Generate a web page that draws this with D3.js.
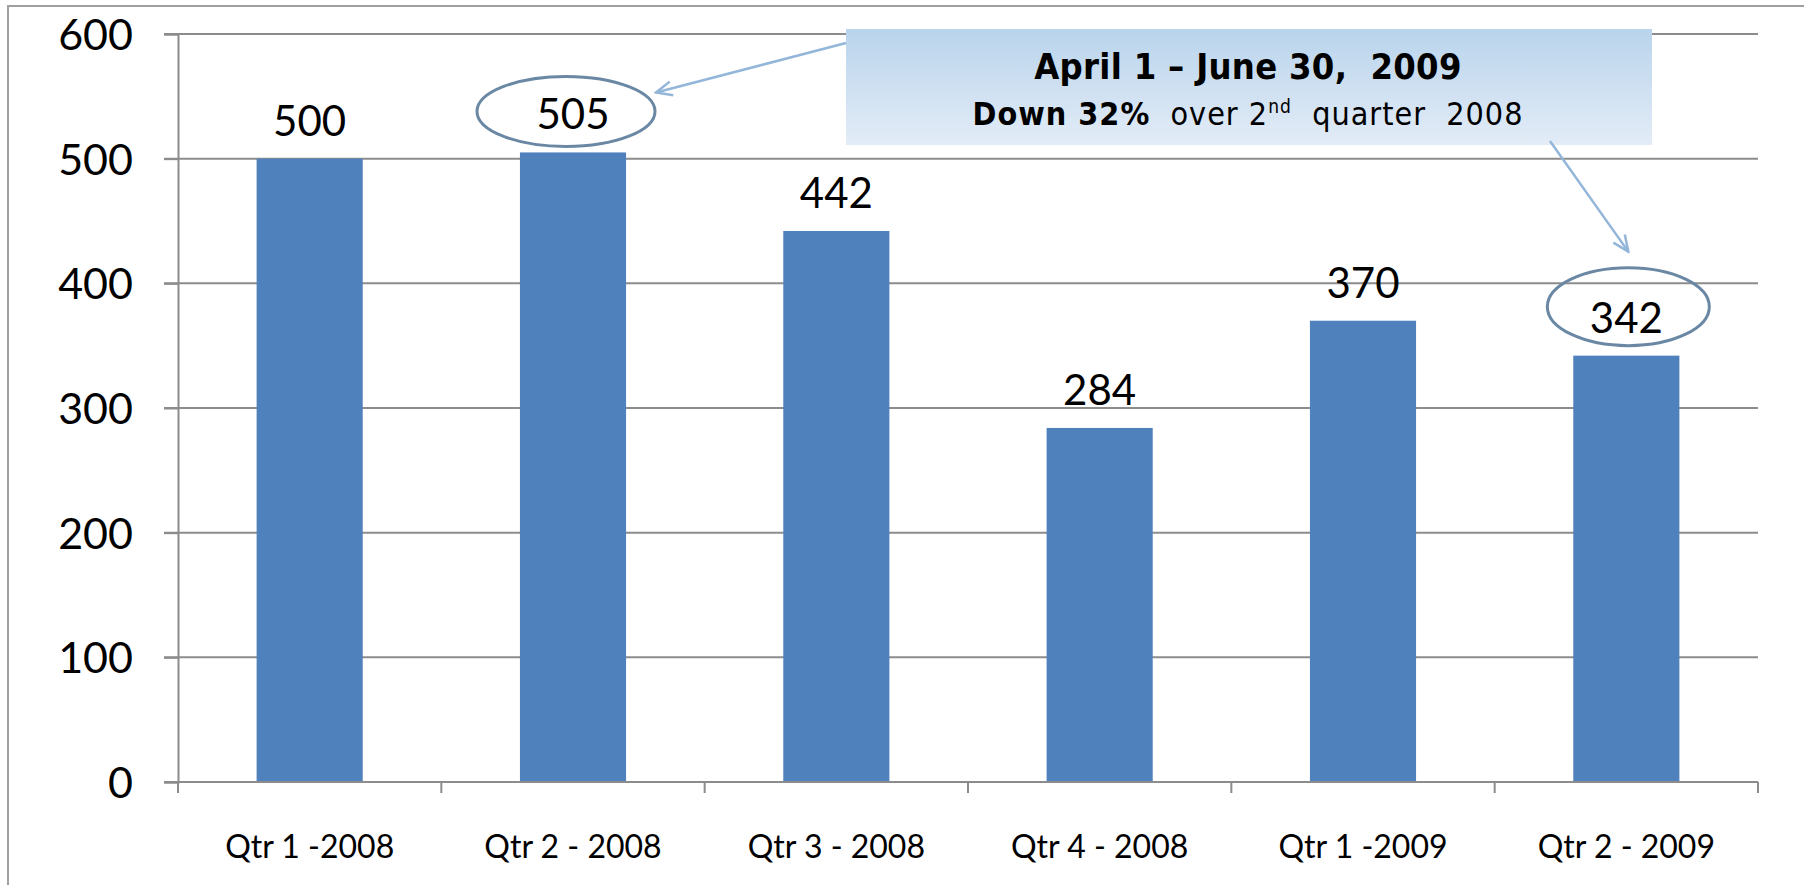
<!DOCTYPE html>
<html>
<head>
<meta charset="utf-8">
<script src="https://cdn.jsdelivr.net/npm/d3@7"></script>
<style>
  html, body { margin: 0; padding: 0; background: #fff; }
  svg { display: block; }
  text { font-family: Lato, "Open Sans", sans-serif; fill: #000; }
  .note text { font-family: "Liberation Sans Narrow", "DejaVu Sans Condensed", sans-serif; white-space: pre; }
</style>
</head>
<body>
<div id="chart"></div>
<script>
// Data
const quarters = ['Qtr 1 -2008', 'Qtr 2 - 2008', 'Qtr 3 - 2008', 'Qtr 4 - 2008', 'Qtr 1 -2009', 'Qtr 2 - 2009'];
const values = [500, 505, 442, 284, 370, 342];
const yTicks = [0, 100, 200, 300, 400, 500, 600];
const circled = ['Qtr 2 - 2008', 'Qtr 2 - 2009'];

const W = 1804, H = 885;
const svg = d3.select('#chart').append('svg')
    .attr('width', W)
    .attr('height', H);

// outer frame (right and bottom edges fall outside the picture)
svg.append('rect')
    .attr('x', 8).attr('y', 6)
    .attr('width', 1900).attr('height', 1000)
    .attr('fill', 'none')
    .attr('stroke', '#a0a0a0')
    .attr('stroke-width', 2);

const plotLeft = 178, plotRight = 1758, plotTop = 34, plotBottom = 782;

const x = d3.scaleBand()
    .domain(quarters)
    .range([plotLeft, plotRight])
    .paddingInner(0.597)
    .paddingOuter(0.2985);

const y = d3.scaleLinear()
    .domain([0, 600])
    .range([plotBottom, plotTop]);

// Gridlines
svg.append('g')
    .selectAll('line')
    .data(yTicks.filter(d => d > 0))
    .join('line')
    .attr('x1', plotLeft - 14).attr('x2', plotRight)
    .attr('y1', d => y(d)).attr('y2', d => y(d))
    .attr('stroke', '#8c8c8c')
    .attr('stroke-width', 2);

// Y axis
const yAxis = svg.append('g')
    .attr('transform', `translate(${plotLeft},0)`)
    .call(d3.axisLeft(y).tickValues(yTicks).tickSize(14).tickPadding(31));
yAxis.select('.domain').attr('stroke', '#8c8c8c').attr('stroke-width', 2);
yAxis.selectAll('.tick line').attr('stroke', '#8c8c8c').attr('stroke-width', 2);
yAxis.selectAll('.tick text')
    .attr('font-size', 43)
    .attr('font-family', 'Lato, sans-serif')
    .attr('fill', '#000')
    .attr('dy', '0.36em');

// Bars
svg.append('g')
    .selectAll('rect')
    .data(quarters)
    .join('rect')
    .attr('x', d => x(d))
    .attr('width', x.bandwidth())
    .attr('y', (d, i) => y(values[i]))
    .attr('height', (d, i) => y(0) - y(values[i]))
    .attr('fill', '#4f81bd');

// X axis with ticks between categories
const step = x.step();
const bounds = quarters.map(d => x(d) - step * x.paddingInner() / 2).concat([plotRight]);
svg.append('line')
    .attr('x1', plotLeft - 14).attr('x2', plotRight)
    .attr('y1', plotBottom).attr('y2', plotBottom)
    .attr('stroke', '#8c8c8c')
    .attr('stroke-width', 2);
svg.append('g')
    .selectAll('line')
    .data(bounds)
    .join('line')
    .attr('x1', d => d).attr('x2', d => d)
    .attr('y1', plotBottom).attr('y2', plotBottom + 11)
    .attr('stroke', '#8c8c8c')
    .attr('stroke-width', 2);

svg.append('g')
    .selectAll('text')
    .data(quarters)
    .join('text')
    .attr('x', d => x(d) + x.bandwidth() / 2)
    .attr('y', 858)
    .attr('text-anchor', 'middle')
    .attr('font-size', 32)
    .text(d => d);

// Value labels
svg.append('g')
    .selectAll('text')
    .data(quarters)
    .join('text')
    .attr('x', d => x(d) + x.bandwidth() / 2)
    .attr('y', (d, i) => y(values[i]) - 23)
    .attr('text-anchor', 'middle')
    .attr('font-size', 42)
    .text((d, i) => values[i]);

// Circles round two labels
const ellShape = [
    { dx: -7, dy: -41, rx: 89, ry: 35 },
    { dx: 2, dy: -49, rx: 81, ry: 39 }
];
const ell = circled.map((q, k) => {
    const i = quarters.indexOf(q);
    const s = ellShape[k];
    return { cx: x(q) + x.bandwidth() / 2 + s.dx, cy: y(values[i]) + s.dy, rx: s.rx, ry: s.ry };
});
svg.append('g')
    .selectAll('ellipse')
    .data(ell)
    .join('ellipse')
    .attr('cx', d => d.cx)
    .attr('cy', d => d.cy)
    .attr('rx', d => d.rx)
    .attr('ry', d => d.ry)
    .attr('fill', 'none')
    .attr('stroke', '#6a88a4')
    .attr('stroke-width', 3);

// Callout box
const defs = svg.append('defs');
const grad = defs.append('linearGradient')
    .attr('id', 'note-grad')
    .attr('x1', '0%').attr('y1', '0%')
    .attr('x2', '0%').attr('y2', '100%');
grad.append('stop').attr('offset', '0%').attr('stop-color', '#b9d4ec');
grad.append('stop').attr('offset', '100%').attr('stop-color', '#e3ecf7');

defs.append('marker')
    .attr('id', 'vhead')
    .attr('viewBox', '0 0 20 20')
    .attr('refX', 18).attr('refY', 10)
    .attr('markerWidth', 20).attr('markerHeight', 20)
    .attr('markerUnits', 'userSpaceOnUse')
    .attr('orient', 'auto')
    .append('path')
    .attr('d', 'M2,3 L18,10 L2,17')
    .attr('fill', 'none')
    .attr('stroke', '#93b6d9')
    .attr('stroke-width', 2.5);

const note = svg.append('g').attr('class', 'note');
note.append('rect')
    .attr('x', 846).attr('y', 29)
    .attr('width', 806).attr('height', 116)
    .attr('fill', 'url(#note-grad)');

note.append('text')
    .attr('x', 1248).attr('y', 79)
    .attr('text-anchor', 'middle')
    .attr('font-size', 36)
    .attr('font-weight', 'bold')
    .attr('letter-spacing', 0.3)
    .text('April 1 \u2013 June 30,  2009');

const line2 = note.append('text')
    .attr('x', 1248).attr('y', 125)
    .attr('text-anchor', 'middle')
    .attr('font-size', 32)
    .attr('letter-spacing', 1);
line2.append('tspan').attr('font-weight', 'bold').text('Down 32%');
line2.append('tspan').text('  over 2');
line2.append('tspan').attr('font-size', 19).attr('dy', -12).text('nd');
line2.append('tspan').attr('dy', 12).text('  quarter  2008');

// Arrows from the box to the circles
const arrows = [
    { x1: 846, y1: 43, x2: ell[0].cx + 90, y2: ell[0].cy - 19 },
    { x1: 1550, y1: 141, x2: ell[1].cx, y2: ell[1].cy - 55 }
];
svg.append('g')
    .selectAll('line')
    .data(arrows)
    .join('line')
    .attr('x1', d => d.x1).attr('y1', d => d.y1)
    .attr('x2', d => d.x2).attr('y2', d => d.y2)
    .attr('stroke', '#93b6d9')
    .attr('stroke-width', 2.5)
    .attr('marker-end', 'url(#vhead)');
</script>
</body>
</html>
